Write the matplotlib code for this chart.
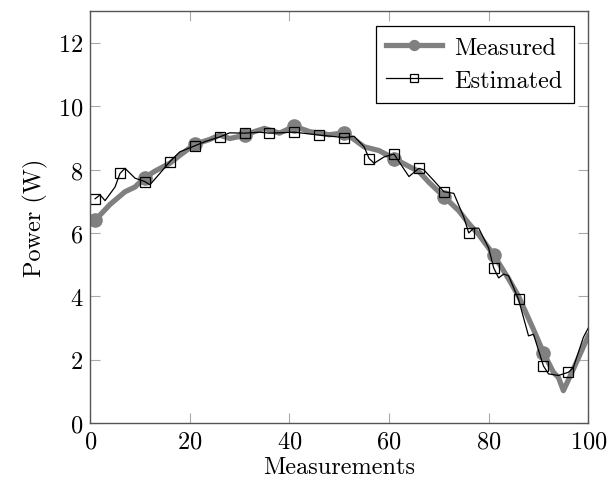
"""
    Measured vs estimated power over measurements
"""
import matplotlib
matplotlib.use("Agg")
import matplotlib.pyplot as plt

plt.rcParams['font.family'] = 'cmr10'
plt.rcParams['mathtext.fontset'] = 'cm'
plt.rcParams['axes.formatter.use_mathtext'] = True

# Measured power (W)
meas_x = [1, 4, 7, 9, 11, 13, 16, 18, 21, 24, 26, 28, 31, 33, 35, 38, 41,
          44, 48, 51, 53, 55, 58, 61, 64, 66, 68, 71, 74, 76, 78, 81, 84,
          86, 89, 91, 93, 94, 95, 97, 100]
meas_y = [6.4, 6.9, 7.3, 7.45, 7.75, 7.95, 8.2, 8.45, 8.8, 8.95, 9.09, 8.98,
          9.08, 9.2, 9.3, 9.15, 9.37, 9.2, 9.1, 9.16, 8.95, 8.72, 8.6, 8.35,
          8.1, 7.94, 7.6, 7.15, 6.7, 6.3, 5.95, 5.31, 4.55, 4.0, 2.95, 2.22,
          1.6, 1.44, 1.02, 1.7, 2.75]

# Estimated power (W)
est_x = [1, 2, 3, 5, 6, 7, 9, 11, 12, 14, 16, 18, 21, 23, 26, 28, 31, 34,
         36, 41, 46, 51, 53, 55, 56, 57, 59, 61, 62, 64, 66, 67, 69, 71, 73,
         75, 76, 77, 78, 80, 81, 82, 83, 84, 86, 88, 89, 91, 92, 94, 96, 97,
         99, 100]
est_y = [7.08, 7.2, 7.02, 7.45, 7.88, 8.04, 7.73, 7.62, 7.52, 7.88, 8.25,
         8.56, 8.75, 8.88, 9.03, 9.16, 9.15, 9.18, 9.15, 9.18, 9.09, 9.01,
         9.05, 8.72, 8.35, 8.2, 8.4, 8.49, 8.25, 7.78, 8.04, 7.99, 7.65, 7.3,
         7.25, 6.5, 6.0, 6.15, 6.15, 5.52, 4.9, 4.58, 4.7, 4.65, 3.9, 2.75,
         2.8, 1.8, 1.55, 1.5, 1.6, 1.75, 2.7, 3.0]

meas_marks = [i for i, x in enumerate(meas_x) if x % 10 == 1]
est_marks = [i for i, x in enumerate(est_x) if x % 5 == 1]

fig = plt.figure(figsize=(6.09, 4.89), dpi=100)
ax = fig.add_axes([0.148, 0.133, 0.818, 0.842])

ax.plot(meas_x, meas_y, color='#808080', linewidth=3.8, marker='o',
        markersize=9.5, markevery=meas_marks, label='Measured')
ax.plot(est_x, est_y, color='black', linewidth=0.9, marker='s',
        markersize=7.5, markerfacecolor='none', markeredgewidth=0.9,
        markevery=est_marks, label='Estimated')

ax.set_xlim(0, 100)
ax.set_ylim(0, 13)
ax.set_xticks(range(0, 101, 20))
ax.set_yticks(range(0, 13, 2))
ax.tick_params(direction='in', length=7, width=0.8, color='#aaaaaa',
               top=True, right=True, labelsize=17.5, pad=5)
for s in ax.spines.values():
    s.set_color('#555555')
    s.set_linewidth(1.0)

ax.set_xlabel('Measurements', fontsize=17.5, labelpad=3)
ax.set_ylabel('Power (W)', fontsize=17.5, labelpad=7)

leg = ax.legend(loc='upper right', fontsize=17.5, fancybox=False,
                framealpha=1, edgecolor='black', borderaxespad=0.6,
                handlelength=2.3, markerscale=0.75, labelspacing=0.45,
                borderpad=0.45, handletextpad=0.5)
leg.get_frame().set_linewidth(0.9)

fig.savefig('out.png', dpi=100)
